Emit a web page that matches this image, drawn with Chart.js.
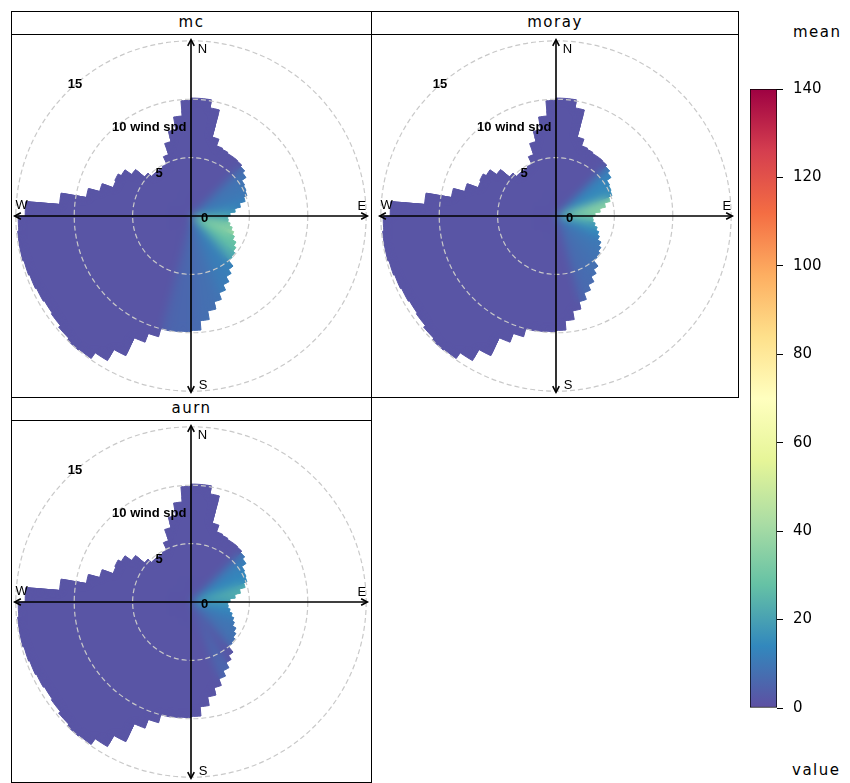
<!DOCTYPE html>
<html>
<head>
<meta charset="utf-8">
<script src="https://cdn.jsdelivr.net/npm/chart.js@4/dist/chart.umd.min.js"></script>
<style>
  html, body { margin: 0; padding: 0; background: #fff; }
  body { width: 850px; height: 783px; position: relative; overflow: hidden; font-family: "DejaVu Sans", sans-serif; color: #000; }
  .frame { position: absolute; border: 1px solid #000; box-sizing: border-box; }
  .strip { position: absolute; left: 0; right: 0; top: 0; height: 23px; border-bottom: 1px solid #000; box-sizing: border-box;
           text-align: center; font-size: 15px; line-height: 21px; letter-spacing: 1.5px; }
  canvas { position: absolute; }
  .keytitle { position: absolute; font-size: 15px; line-height: 18px; letter-spacing: 1.5px; }
</style>
</head>
<body>
<div class="frame" style="left:11px;top:11px;width:361px;height:387px;"><div class="strip">mc</div></div>
<div class="frame" style="left:371px;top:11px;width:368px;height:387px;"><div class="strip">moray</div></div>
<div class="frame" style="left:11px;top:397px;width:361px;height:386px;"><div class="strip">aurn</div></div>

<canvas id="pMc" width="362" height="362" style="left:10px;top:35px;"></canvas>
<canvas id="pMoray" width="362" height="362" style="left:375px;top:35px;"></canvas>
<canvas id="pAurn" width="362" height="362" style="left:10px;top:421px;"></canvas>
<canvas id="key" width="100" height="657" style="left:750px;top:70px;"></canvas>

<div class="keytitle" style="left:793px;top:23px;">mean</div>
<div class="keytitle" style="left:792px;top:761px;">value</div>

<script>
// ---- data -------------------------------------------------------------
const panelNames = ['mc', 'moray', 'aurn'];

// width of one wind-direction sector (degrees, clockwise from north)
const sectorStep = 5;

// furthest wind speed (m/s) reached in each 5° sector, starting at 0°
const edgeSpeed = [
  10.1, 10.1, 9.4, 7.0, 6.4, 6.3, 6.2, 6.2, 6.15, 6.0, 5.75, 5.3,
  5.2, 5.1, 4.8, 4.3, 3.8, 3.35, 3.15, 3.2, 3.4, 3.65, 3.9, 4.1,
  4.45, 4.7, 4.9, 5.0, 5.6, 6.0, 6.5, 7.0, 7.6, 8.25, 9.0, 9.8,
  9.9, 9.95, 10.0, 10.7, 11.5, 13.2, 14.3, 14.9, 15.0, 14.8, 14.6, 14.5,
  14.6, 14.7, 14.8, 14.9, 14.9, 14.8, 14.2, 11.3, 9.1, 8.1, 7.1, 7.2,
  6.9, 6.2, 5.2, 4.8, 4.8, 4.8, 4.9, 5.6, 6.6, 7.5, 8.6, 9.9
];

// mean value over the rest of the surface
const backgroundMean = 1.5;

// [speed ring (upper m/s), first direction of the run, values every 10°...]
const mcRows = [
  [1, 0, 4,4,4,4,5,7,10,16,24,32,38,42,44,42,36,32,26,18,12,8,5,4,3,3,3,3,3,3,3,4,4,4,4,4,4,4],
  [2, 40, 5,7,10,16,26,36,44,50,54,50,42,34,24,16,11,8,5],
  [2, 270, 4,5,6,6,6,5,4],
  [3, 40, 6,8,11,15,22,30,40,50,54,48,38,26,17,12,9,7,5],
  [3, 270, 4,5,6,7,7,6,5],
  [4, 30, 6,8,10,12,14,18,24,32,40,42,34,24,17,13,10,8,6],
  [4, 270, 4,5,6,6,6,5,4],
  [5, 30, 6,8,10,11,12,15,19,24,28,28,22,17,13,11,9,8,6],
  [6, 20, 5,6,8,9,10,11,13,15,17,18,17,14,12,11,10,8,7,5],
  [7, 120, 12,12,12,11,10,9,8,7,5],
  [8, 140, 10,10,9,8,8,6,5],
  [9, 150, 9,8,8,7,6,5],
  [10, 160, 7,7,6,5]
];

const morayRows = [
  [1, 0, 7,7,7,8,9,11,13,15,16,17,17,16,14,12,10,9,8,7,6,5,4,3,3,3,3,3,3,3,3,4,4,4,4,4,5,6],
  [2, 0, 6,6,7,8,11,14,18,21,22,21,19,16,13,11,9,8,7,6,5],
  [2, 270, 3,4,5,5,5,4,3],
  [3, 0, 6,7,8,10,14,20,27,31,30,24,18,15,12,10,8,7,6,5],
  [3, 270, 3,4,5,5,5,4,3],
  [4, 0, 6,7,8,10,15,24,32,36,34,26,18,14,11,9,8,7,6],
  [4, 270, 3,4,5,5,5,4,3],
  [5, 10, 7,8,9,13,22,30,34,32,24,16,12,10,9,8,7,6],
  [6, 10, 6,7,9,11,13,15],
  [6, 140, 8,8,7,7,6,5],
  [7, 150, 7,7,7,6,5],
  [8, 150, 6,6,6,5,4]
];

const aurnRows = [
  [1, 0, 6,6,6,7,8,9,10,11,12,12,11,10,9,8,7,6,5,5,4,4,3,3,3,3,3,3,3,3,3,3,4,4,4,4,5,5],
  [2, 0, 6,6,7,8,10,12,14,15,15,14,13,12,10,9,8,7,6,5],
  [2, 270, 3,4,4,5,4,4,3],
  [3, 0, 6,7,7,9,12,15,19,20,19,16,14,12,10,9,8,7,6],
  [3, 270, 3,4,4,5,4,4,3],
  [4, 0, 6,7,8,9,12,17,22,24,21,16,13,11,10,9,8,7,6],
  [4, 270, 3,4,4,5,4,4,3],
  [5, 10, 7,8,9,12,18,22,23,20,15,12,10,9,8,7],
  [6, 20, 7,8,10,12,14,16],
  [6, 150, 6,6,6,5,4],
  [7, 150, 6,6,6,5,4]
];

// speed circles and their labels
const speedCircles = [5, 10, 15];
const windSpeedLabel = 'wind spd';

// colour key
const keyMax = 140;
const keyTicks = [0, 20, 40, 60, 80, 100, 120, 140];
const spectralStops = ['#5E4FA2', '#3288BD', '#66C2A5', '#ABDDA4', '#E6F598', '#FFFFBF',
                       '#FEE08B', '#FDAE61', '#F46D43', '#D53E4F', '#9E0142'];

// ---- helpers ----------------------------------------------------------
function hexToRgb(h) { return [1, 3, 5].map(k => parseInt(h.slice(k, k + 2), 16)); }

function meanColour(v) {
  const t = Math.max(0, Math.min(1, v / keyMax)) * (spectralStops.length - 1);
  const i = Math.min(Math.floor(t), spectralStops.length - 2);
  const f = t - i;
  const a = hexToRgb(spectralStops[i]), b = hexToRgb(spectralStops[i + 1]);
  return 'rgb(' + a.map((c, k) => Math.round(c + (b[k] - c) * f)).join(',') + ')';
}

function fieldLookup(rows) {
  const table = {};
  rows.forEach(([ring, first, ...vals]) => {
    vals.forEach((v, k) => { table[ring + ':' + (first + 10 * k)] = v; });
  });
  return (ring, dir) => (table[ring + ':' + dir] ?? backgroundMean);
}

// outline of the surface: one arc per sector at its furthest speed
function edgePath(ctx, s) {
  ctx.beginPath();
  edgeSpeed.forEach((b, i) => {
    const a0 = (i * sectorStep - 90) * Math.PI / 180;
    const a1 = ((i + 1) * sectorStep - 90) * Math.PI / 180;
    ctx.arc(s.xCenter, s.yCenter, s.getDistanceFromCenterForValue(b), a0, a1);
  });
  ctx.closePath();
}

// soften the cell edges inside the surface (outline stays sharp), then dashed speed circles
const surfacePlugin = {
  id: 'surface',
  afterDatasetsDraw(chart) {
    const c = chart.canvas, ctx = chart.ctx, s = chart.scales.r;
    const snap = document.createElement('canvas');
    snap.width = c.width; snap.height = c.height;
    snap.getContext('2d').drawImage(c, 0, 0);
    ctx.save();
    edgePath(ctx, s);
    ctx.clip();
    ctx.filter = 'blur(4px)';
    ctx.drawImage(snap, 0, 0, c.width, c.height, 0, 0, chart.width, chart.height);
    ctx.restore();

    ctx.save();
    ctx.strokeStyle = '#c9c9c9';
    ctx.lineWidth = 1.2;
    ctx.setLineDash([5, 3]);
    speedCircles.forEach(v => {
      ctx.beginPath();
      ctx.arc(s.xCenter, s.yCenter, s.getDistanceFromCenterForValue(v), 0, Math.PI * 2);
      ctx.stroke();
    });
    ctx.restore();
  }
};

// compass axes, arrows and circle labels, placed in wind-speed units
const compassPlugin = {
  id: 'compass',
  afterDraw(chart) {
    const s = chart.scales.r;
    const ctx = chart.ctx;
    const k = s.getDistanceFromCenterForValue(1) - s.getDistanceFromCenterForValue(0);
    const at = (x, y) => [s.xCenter + x * k, s.yCenter - y * k];
    const reach = 15.1;

    ctx.save();
    ctx.strokeStyle = '#000';
    ctx.lineWidth = 1.6;
    ctx.beginPath();
    let p = at(-reach, 0), q = at(reach, 0);
    ctx.moveTo(p[0], p[1]); ctx.lineTo(q[0], q[1]);
    p = at(0, reach); q = at(0, -reach);
    ctx.moveTo(p[0], p[1]); ctx.lineTo(q[0], q[1]);
    ctx.stroke();

    // open arrow heads at each end
    const head = 7, spread = Math.PI / 6.5;
    [[reach, 0], [-reach, 0], [0, reach], [0, -reach]].forEach(([x, y]) => {
      const [tx, ty] = at(x, y);
      const ang = Math.atan2(ty - s.yCenter, tx - s.xCenter);
      ctx.beginPath();
      ctx.moveTo(tx - head * Math.cos(ang - spread), ty - head * Math.sin(ang - spread));
      ctx.lineTo(tx, ty);
      ctx.lineTo(tx - head * Math.cos(ang + spread), ty - head * Math.sin(ang + spread));
      ctx.stroke();
    });

    ctx.fillStyle = '#000';
    ctx.textAlign = 'center';
    ctx.textBaseline = 'middle';
    ctx.font = '13px "Liberation Sans", Arial, sans-serif';
    [['N', 0.98, 14.3], ['S', 1.03, -14.55], ['W', -14.5, 0.94], ['E', 14.64, 0.86]].forEach(([t, x, y]) => {
      const [px, py] = at(x, y);
      ctx.fillText(t, px, py);
    });

    ctx.font = 'bold 13px "Liberation Sans", Arial, sans-serif';
    let [px, py] = at(-9.93, 11.3);
    ctx.fillText(String(speedCircles[2]), px, py);
    [px, py] = at(-2.74, 3.64);
    ctx.fillText(String(speedCircles[0]), px, py);
    [px, py] = at(1.16, -0.17);
    ctx.fillText('0', px, py);
    ctx.textAlign = 'left';
    [px, py] = at(-6.76, 7.58);
    ctx.fillText(speedCircles[1] + ' ' + windSpeedLabel, px, py);
    ctx.restore();
  }
};

function drawPanel(canvasId, rows) {
  const lookup = fieldLookup(rows);
  const ringCount = Math.ceil(Math.max(...edgeSpeed));
  const datasets = [];
  // outer rings first, each inner ring painted over the previous one
  for (let ring = ringCount; ring >= 1; ring--) {
    const data = edgeSpeed.map(b => (b > ring - 1 ? Math.min(ring, b) : 0));
    const colours = edgeSpeed.map((b, i) => {
      if (b <= ring - 1) return 'rgba(0,0,0,0)';
      const dir = Math.floor(i * sectorStep / 10) * 10;
      return meanColour(lookup(ring, dir));
    });
    datasets.push({ data, backgroundColor: colours, borderColor: colours, borderWidth: 1 });
  }

  return new Chart(document.getElementById(canvasId), {
    type: 'polarArea',
    data: { labels: edgeSpeed.map((_, i) => i * sectorStep), datasets },
    options: {
      responsive: false,
      animation: false,
      events: [],
      layout: { padding: 0 },
      plugins: { legend: { display: false }, tooltip: { enabled: false } },
      scales: {
        r: {
          min: 0,
          max: 15.5,
          startAngle: 0,
          ticks: { display: false, stepSize: 5 },
          angleLines: { display: false },
          pointLabels: { display: false },
          grid: { display: false }
        }
      }
    },
    plugins: [surfacePlugin, compassPlugin]
  });
}

drawPanel('pMc', mcRows);
drawPanel('pMoray', morayRows);
drawPanel('pAurn', aurnRows);

// ---- colour key -------------------------------------------------------
new Chart(document.getElementById('key'), {
  type: 'bar',
  data: {
    labels: ['mean'],
    datasets: [{
      data: [[0, keyMax]],
      borderColor: '#000',
      borderWidth: 1,
      borderSkipped: false,
      barPercentage: 1,
      categoryPercentage: 1,
      backgroundColor(ctx) {
        const chart = ctx.chart;
        if (!chart.chartArea) return spectralStops[0];
        const y = chart.scales.y;
        const g = chart.ctx.createLinearGradient(0, y.getPixelForValue(0), 0, y.getPixelForValue(keyMax));
        spectralStops.forEach((c, i) => g.addColorStop(i / (spectralStops.length - 1), c));
        return g;
      }
    }]
  },
  options: {
    responsive: false,
    animation: false,
    events: [],
    layout: { padding: { top: 10, bottom: 10, left: 0, right: 0 } },
    plugins: { legend: { display: false }, tooltip: { enabled: false } },
    scales: {
      x: { display: false },
      y: {
        position: 'right',
        min: 0,
        max: keyMax,
        afterBuildTicks: axis => { axis.ticks = keyTicks.map(v => ({ value: v })); },
        afterFit: axis => { axis.width = 73; },
        ticks: { color: '#000', padding: 10, font: { family: '"DejaVu Sans", sans-serif', size: 15 } },
        grid: { drawOnChartArea: false, drawTicks: true, tickLength: 6, color: '#000', lineWidth: 1 },
        border: { display: false }
      }
    }
  }
});
</script>
</body>
</html>
